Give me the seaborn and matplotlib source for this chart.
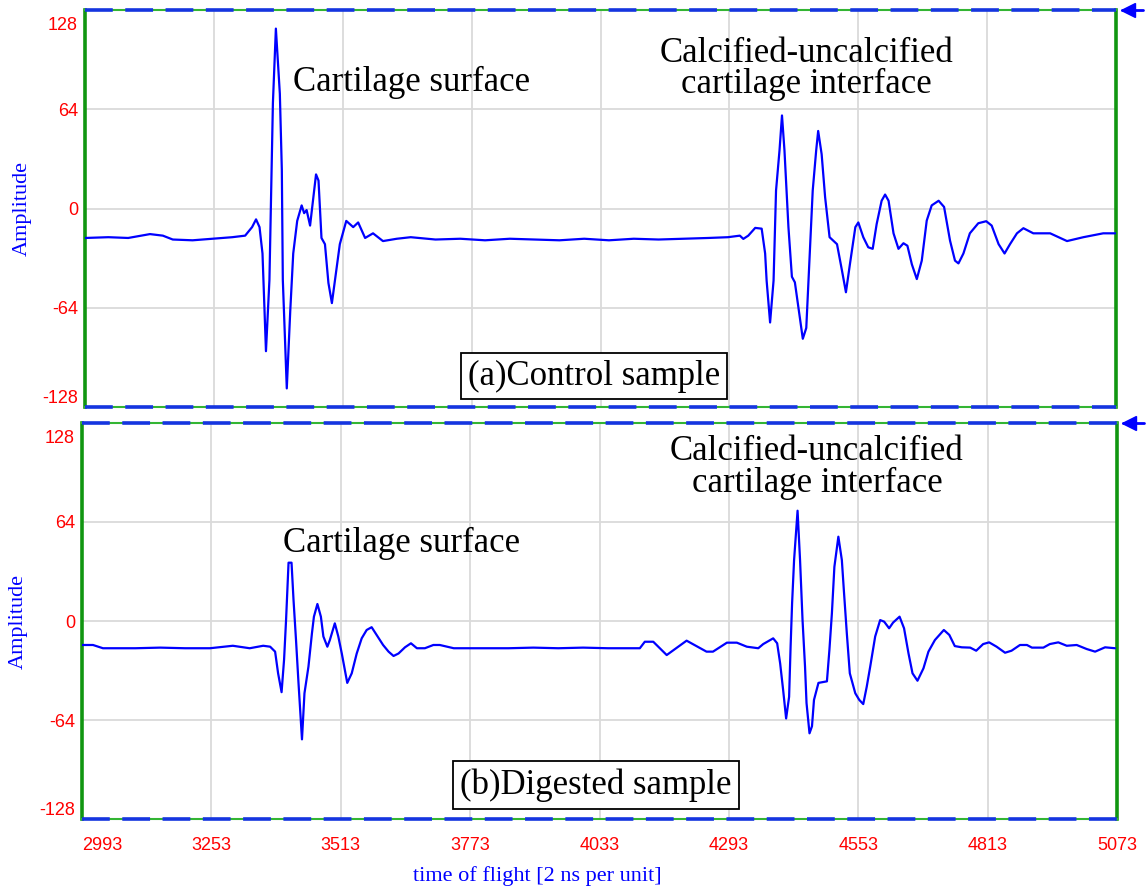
import numpy as np
import pandas as pd
import matplotlib
matplotlib.use('Agg')
import matplotlib.pyplot as plt
import matplotlib.transforms as mtransforms
import seaborn as sns

# =========================
# data read off the two A-scans
# =========================
control_t = [2993, 3040, 3080, 3124, 3150, 3170, 3210, 3250, 3290, 3316, 3330, 3338, 3345, 3351,
             3358, 3365, 3372, 3378, 3386, 3390, 3392, 3400, 3407, 3413, 3421, 3430, 3435, 3440,
             3447, 3452, 3459, 3464, 3470, 3477, 3484, 3491, 3499, 3507, 3520, 3534, 3544, 3558,
             3574, 3594, 3622, 3650, 3700, 3750, 3800, 3850, 3900, 3950, 4000, 4050, 4100, 4150,
             4200, 4250, 4290,
             4314, 4321, 4331, 4345, 4358, 4365, 4368, 4375, 4382, 4387, 4394, 4399, 4404, 4412,
             4419, 4425, 4434, 4441, 4448, 4454, 4461, 4468, 4472, 4479, 4486, 4495, 4510, 4520,
             4528, 4536, 4547, 4553, 4563, 4573, 4582, 4590, 4600, 4607, 4614, 4624, 4634, 4644,
             4652, 4661, 4671, 4681, 4691, 4701, 4715, 4726, 4738, 4748, 4755, 4765, 4778, 4795,
             4811, 4822, 4836, 4848, 4859, 4873, 4886, 4906, 4940, 4974, 5007, 5047, 5071]
control_amp = [-19, -18.5, -19, -16.5, -17.5, -20, -20.5, -19.5, -18.5, -17.5, -12, -7, -12, -29,
               -92, -46, 68, 116, 74, 25, -46, -116, -66, -29, -8, 2, -3, -1,
               -11, 3, 22, 18, -19, -23, -48, -61, -42, -23, -8, -12, -9, -19,
               -16, -21, -19.5, -18.5, -20, -19.5, -20.5, -19.5, -20, -20.5, -19.5, -20.5, -19.5, -20,
               -19.5, -19, -18.5,
               -17.5, -19.6, -17.5, -12.5, -13, -29, -46.5, -73.5, -46.5, 11.6, 37.5, 60, 37.5, -12,
               -44, -47.6, -68, -84, -77, -36, 11.6, 37.5, 50, 35, 7.3, -18.5, -23, -40,
               -54, -36, -12, -9, -18.5, -25, -26, -10, 5, 9, 5, -16, -26, -22.4,
               -24, -36, -45.5, -33.6, -7.8, 2, 5, 1, -20.7, -33.6, -35.4, -29, -16, -9.5,
               -8.2, -11, -23, -29, -23, -16, -12.7, -16, -16, -21, -18.5, -16, -16]

digested_t = [2993, 3015, 3035, 3100, 3150, 3200, 3250, 3296, 3330, 3357, 3371, 3381, 3387, 3394,
              3399, 3403, 3408, 3414, 3418, 3423, 3428, 3435, 3440, 3448, 3455, 3459, 3466, 3473,
              3478, 3486, 3491, 3501, 3508, 3515, 3526, 3535, 3545, 3555, 3565, 3575, 3585, 3598,
              3609, 3619, 3629, 3642, 3654, 3666, 3682, 3699, 3712, 3740, 3800, 3850, 3900, 3950,
              4000, 4050, 4114, 4124, 4141, 4168, 4208, 4248, 4261, 4289, 4309, 4329, 4352, 4362,
              4382, 4390, 4396, 4402, 4408, 4414, 4417, 4420, 4424, 4431, 4436, 4441, 4446, 4449,
              4455, 4460, 4464, 4473, 4490, 4495, 4500, 4505, 4513, 4520, 4524, 4530, 4536, 4547,
              4555, 4563, 4570, 4577, 4587, 4597, 4605, 4615, 4623, 4636, 4645, 4654, 4662, 4672,
              4684, 4694, 4707, 4725, 4736, 4747, 4761, 4778, 4790, 4804, 4816, 4831, 4848, 4861,
              4878, 4892, 4902, 4925, 4938, 4955, 4972, 4992, 5012, 5029, 5049, 5069]
digested_amp = [-15.5, -15.5, -17.6, -17.6, -17.2, -17.6, -17.6, -16, -17.6, -16, -16.6, -19.8, -33.8, -46,
                -25, 0.6, 37.7, 37.7, 13.6, -12.3, -40, -76.5, -46.7, -29.5, -8, 2.8, 11, 2.8,
                -10, -16.6, -12.3, -1.5, -10, -21, -40, -33.8, -21, -11.2, -5.8, -4, -9, -15.5,
                -19.8, -22.6, -21, -17, -14.4, -17.6, -17.6, -15.5, -15.5, -17.6, -17.6, -17.6, -17.2, -17.6,
                -17.2, -17.6, -17.6, -13.4, -13.4, -22, -12.7, -19.8, -19.8, -14, -14, -16.6, -17.6, -14.9,
                -11.2, -14.4, -27.4, -44.6, -63, -49, -16.6, 11.4, 39.4, 71.3, 39.4, 0.6, -29.5, -53,
                -72.6, -68, -51, -40, -39, -18.7, 5, 35, 54.5, 39.4, 20, -8, -33.8, -46.7,
                -51, -53.7, -42.5, -29.5, -10, 0.6, -0.4, -4.7, -1, 2.8, -4.7, -21, -33.8, -38.6,
                -30.6, -19.8, -12.3, -5.8, -9, -16.2, -17, -17.2, -19.2, -14.9, -13.8, -16.6, -20.5, -19.2,
                -15.5, -15.5, -17.2, -17.2, -14.9, -13.8, -16, -15.5, -18.1, -19.8, -17, -17.6]

x_ticks = [2993, 3253, 3513, 3773, 4033, 4293, 4553, 4813, 5073]
y_ticks = [-128, -64, 0, 64, 128]

panel_labels = ['(a)Control sample', '(b)Digested sample']
echo_labels = ['Cartilage surface', 'Calcified-uncalcified\ncartilage interface']

# =========================
# style
# =========================
sns.set_style('white')
plt.rcParams['font.family'] = ['Liberation Sans', 'DejaVu Sans']
plt.rcParams['lines.scale_dashes'] = False

BLUE = '#0000ff'
FRAME_BLUE = '#1535e0'
GREEN = '#119611'
RED = '#ff0000'
GRID = '#dadada'
SERIF = ['Liberation Serif', 'DejaVu Serif']

fig = plt.figure(figsize=(11.46, 8.92), dpi=100)
ax_top = fig.add_axes([0.0742, 0.5437, 0.8997, 0.4451])
ax_bot = fig.add_axes([0.0716, 0.0818, 0.9031, 0.4440])

traces = [pd.DataFrame({'t': control_t, 'amp': control_amp}),
          pd.DataFrame({'t': digested_t, 'amp': digested_amp})]

# text anchors (data coords): surface label (left/center), interface label (center)
surface_pos = [(3413, 81), (3397, 50)]
interface_pos = [(4448, 90), (4470, 99)]
panel_pos = [(4020, -108), (4026, -106)]

for i, ax in enumerate([ax_top, ax_bot]):
    sns.lineplot(data=traces[i], x='t', y='amp', ax=ax, color=BLUE, lw=1.6,
                 sort=False, estimator=None, zorder=3)
    ax.set_xlim(2993, 5073)
    ax.set_ylim(-128, 128)
    ax.set_xticks(x_ticks)
    ax.set_yticks(y_ticks)
    ax.grid(True, color=GRID, lw=1.3, zorder=0)
    ax.set_axisbelow(True)
    ax.tick_params(length=0)
    ax.tick_params(axis='y', pad=5, labelsize=13, labelcolor=RED)
    ax.tick_params(axis='x', pad=13, labelsize=13, labelcolor=RED)
    ax.set_yticklabels([str(v) for v in y_ticks])
    # keep the end labels inside the frame, like the scope software does
    for lab, v in zip(ax.get_yticklabels(), y_ticks):
        if v == 128:
            lab.set_transform(lab.get_transform() +
                              mtransforms.ScaledTranslation(0, -10 / 72, fig.dpi_scale_trans))
        elif v == -128:
            lab.set_transform(lab.get_transform() +
                              mtransforms.ScaledTranslation(0, 7.5 / 72, fig.dpi_scale_trans))

    ax.set_ylabel('Amplitude', color=BLUE, fontsize=16, family=SERIF)
    ax.yaxis.set_label_coords(-0.052, 0.5)
    ax.set_xlabel('')

    # frame: green box, blue dashes along top & bottom
    for side in ['left', 'right']:
        ax.spines[side].set_color(GREEN)
        ax.spines[side].set_linewidth(2.6)
    for side in ['top', 'bottom']:
        ax.spines[side].set_color('#33b533')
        ax.spines[side].set_linewidth(1.5)
    for yy in [0, 1]:
        ax.plot([0, 1], [yy, yy], transform=ax.transAxes, color=FRAME_BLUE, lw=2.6,
                dashes=(20, 9), clip_on=False, zorder=5)
    # little blue arrow at the top right corner
    ax.plot([1.006, 1.026], [1, 1], transform=ax.transAxes, color=BLUE, lw=2, clip_on=False)
    ax.plot([1.012], [1], transform=ax.transAxes, marker='<', ms=10, color=BLUE,
            clip_on=False, zorder=6)

    ax.text(*surface_pos[i], echo_labels[0], fontsize=25, family=SERIF, color='black',
            ha='left', va='center', zorder=4)
    ax.text(*interface_pos[i], echo_labels[1], fontsize=25, family=SERIF, color='black',
            ha='center', va='center', multialignment='center', linespacing=0.95, zorder=4)
    ax.text(*panel_pos[i], panel_labels[i], fontsize=25, family=SERIF, color='black',
            ha='center', va='center', zorder=4,
            bbox=dict(boxstyle='square,pad=0.2', fc='white', ec='black', lw=1.3))

ax_top.set_xticklabels([])
ax_bot.set_xticklabels([str(v) for v in x_ticks])
ax_bot.get_xticklabels()[0].set_ha('left')
ax_bot.set_xlabel('time of flight [2 ns per unit]', color=BLUE, fontsize=16, family=SERIF)
ax_bot.xaxis.set_label_coords(0.44, -0.118)

fig.savefig('out.png', dpi=100)
